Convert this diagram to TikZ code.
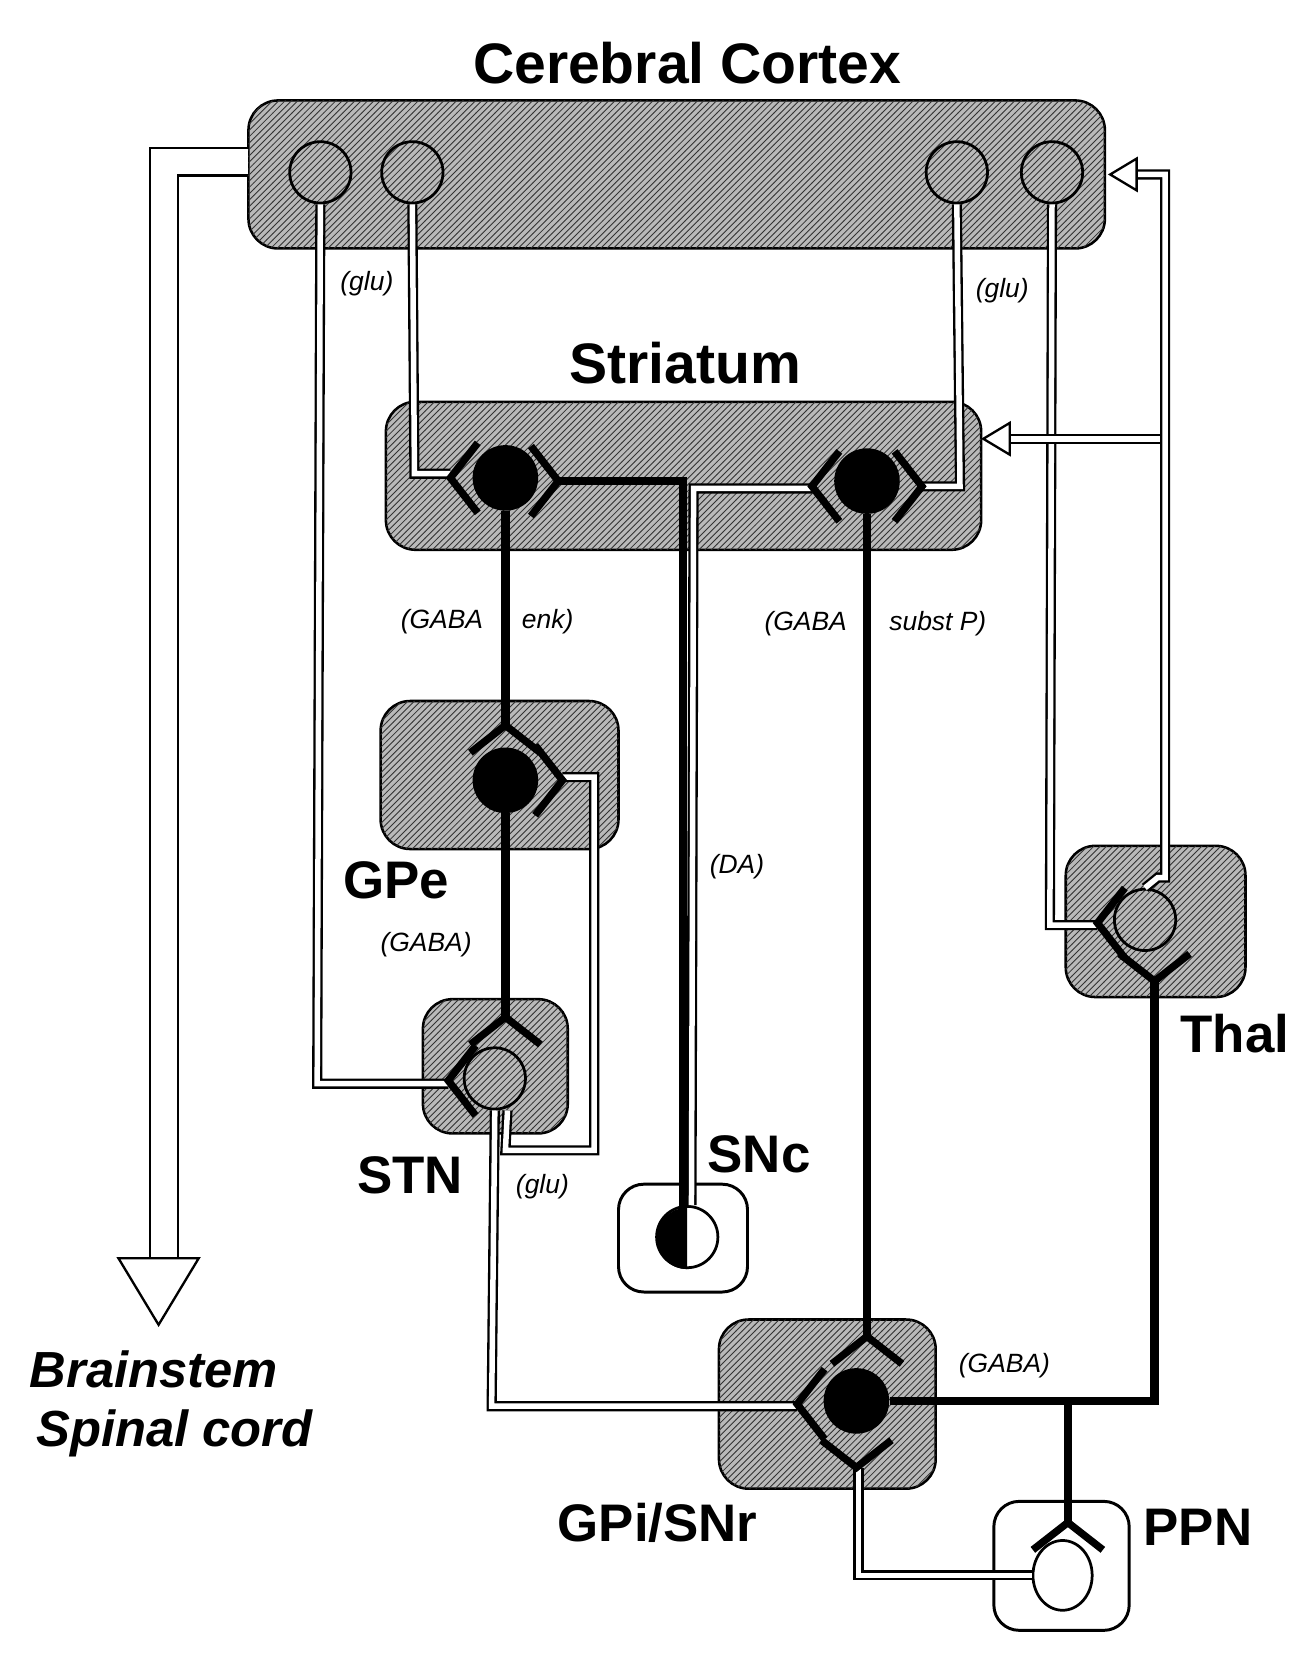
\documentclass[tikz,border=0pt]{standalone}
\usepackage{fontspec}
\setmainfont{Liberation Sans}
\usetikzlibrary{patterns,shapes.geometric}
\begin{document}
\begin{tikzpicture}[x=0.5pt,y=-0.5pt,
 hbox/.style={draw=black,line width=1.2pt,rounded corners=14pt,fill=gray!55,postaction={pattern=north east lines,pattern color=black!80}},
 wbox/.style={draw=black,line width=1.4pt,rounded corners=12pt,fill=white},
 dbl/.style={double=white,double distance=2.6pt,line width=1.1pt},
 blk/.style={line width=4pt,black},
 syn/.style={line width=3.5pt,black},
 cellf/.style={circle,fill=black,minimum size=31pt,inner sep=0pt},
 cello/.style={circle,draw,line width=1.3pt,minimum size=29pt,inner sep=0pt},
 big/.style={font=\fontsize{25}{28}\selectfont\bfseries},
 lab/.style={font=\fontsize{12.5}{14}\selectfont\itshape},
 oarr/.style={draw,line width=1.1pt,fill=white}]
\useasboundingbox (0,0) rectangle (1240,1571);
\newcommand\syn[3]{\draw[syn] ([shift={(#3+52:42)}]#1,#2) -- (#1,#2) -- ([shift={(#3-52:42)}]#1,#2);}
% boxes
\draw[hbox] (235,95) rectangle (1045,235);
\draw[hbox] (365,380) rectangle (928,520);
\draw[hbox] (360,663) rectangle (585,803);
\draw[hbox] (400,945) rectangle (537,1072);
\draw[hbox] (680,1248) rectangle (885,1408);
\draw[hbox] (1008,800) rectangle (1178,943);
\draw[wbox] (585,1120) rectangle (707,1222);
\draw[wbox] (940,1420) rectangle (1068,1542);
% labels
\node[big,font=\fontsize{27}{30}\selectfont\bfseries] (tcc) at (650,60) {Cerebral Cortex};
\node[big,font=\fontsize{27}{30}\selectfont\bfseries] (tst) at (648,343) {Striatum};
\node[big] (tgpe) at (375,833) {GPe};
\node[big] (tstn) at (388,1112) {STN};
\node[big] (tsnc) at (718,1092) {SNc};
\node[big] (tgpi) at (622,1440) {GPi/SNr};
\node[big] (tthal) at (1168,978) {Thal};
\node[big] (tppn) at (1133,1445) {PPN};
\node[big,font=\fontsize{24}{28}\selectfont\bfseries\itshape,align=left] (tbs) at (162,1328) {Brainstem\\\hspace*{3pt}Spinal cord};
\node[lab] (l1) at (347,268) {(glu)};
\node[lab] (l2) at (948,275) {(glu)};
\node[lab] (l3) at (418,588) {(GABA};
\node[lab] (l4) at (518,588) {enk)};
\node[lab] (l5) at (762,590) {(GABA};
\node[lab] (l6) at (887,590) {subst P)};
\node[lab] (l7) at (697,820) {(DA)};
\node[lab] (l8) at (403,893) {(GABA)};
\node[lab] (l9) at (513,1122) {(glu)};
\node[lab] (l10) at (950,1292) {(GABA)};
% brainstem output
\draw[double=white,double distance=12pt,line width=1.1pt] (235,153) -- (155,153) -- (155,1192);
\draw[oarr] (112,1190) -- (188,1190) -- (150,1253) -- cycle;
% cortex cells
\node[cello] (c1) at (303,163) {};
\node[cello] (c2) at (390,163) {};
\node[cello] (c3) at (905,163) {};
\node[cello] (c4) at (995,163) {};
% cells
\node[cellf] (s1) at (478,452) {};
\node[cellf] (s2) at (820,455) {};
\node[cellf] (gpe) at (478,738) {};
\node[cello] (stn) at (468,1020) {};
\node[cellf] (gpi) at (810,1325) {};
\node[cello] (thal) at (1083,870) {};
\node[ellipse,draw,fill=white,line width=1.3pt,minimum width=28pt,minimum height=33pt,inner sep=0pt] (ppn) at (1005,1490) {};
% SNc cell half filled
\node[cello,fill=white] (snc) at (650,1170) {};
\fill (snc.south) arc[start angle=270,end angle=90,radius=14.5pt] -- cycle;
% cortex projections
\draw[dbl] (c1.south) -- (300,1025) -- (424,1025);
\draw[dbl] (c2.south) -- (392,448) -- (426,448);
\draw[dbl] (c3.south) -- (908,460) -- (872,460);
\draw[dbl] (c4.south) -- (993,875) -- (1038,875);
% thal outputs
\draw[dbl] (1100,415) -- (955,415);
\draw[dbl] (thal.north) -- (1095,830) -- (1102,830) -- (1102,165) -- (1075,165);
\draw[oarr] (1050,165) -- (1075,150) -- (1075,180) -- cycle;
\draw[oarr] (930,415) -- (955,400) -- (955,430) -- cycle;
% DA
\draw[dbl] (snc.north) ++(4,0) -- (656,462) -- (768,462);
\draw[blk] (snc.center) ++(-4,0) -- (646,455) -- (528,455);
% GABA pathways
\draw[blk] (s1.south) -- (478,686);
\draw[blk] (gpe.south) -- (478,962);
\draw[blk] (s2.south) -- (820,1264);
% STN outputs
\draw[dbl] (stn.south) -- (465,1330) -- (754,1330);
\draw[dbl] (stn.south) ++(12,0) -- (478,1088) -- (562,1088) -- (562,735) -- (532,735);
% GPi outputs
\draw[blk] (gpi.east) -- (1092,1325) -- (1092,928);
\draw[blk] (1010,1325) -- (1010,1440);
\draw[dbl] (ppn.west) -- (812,1490) -- (812,1388);
% synapses
\syn{426}{452}{0}
\syn{528}{455}{180}
\syn{768}{460}{0}
\syn{872}{460}{180}
\syn{478}{686}{90}
\syn{532}{738}{180}
\syn{478}{962}{90}
\syn{424}{1022}{0}
\syn{820}{1264}{90}
\syn{754}{1328}{0}
\syn{810}{1388}{270}
\syn{1038}{873}{0}
\syn{1092}{928}{270}
\syn{1010}{1440}{90}
\end{tikzpicture}
\end{document}
